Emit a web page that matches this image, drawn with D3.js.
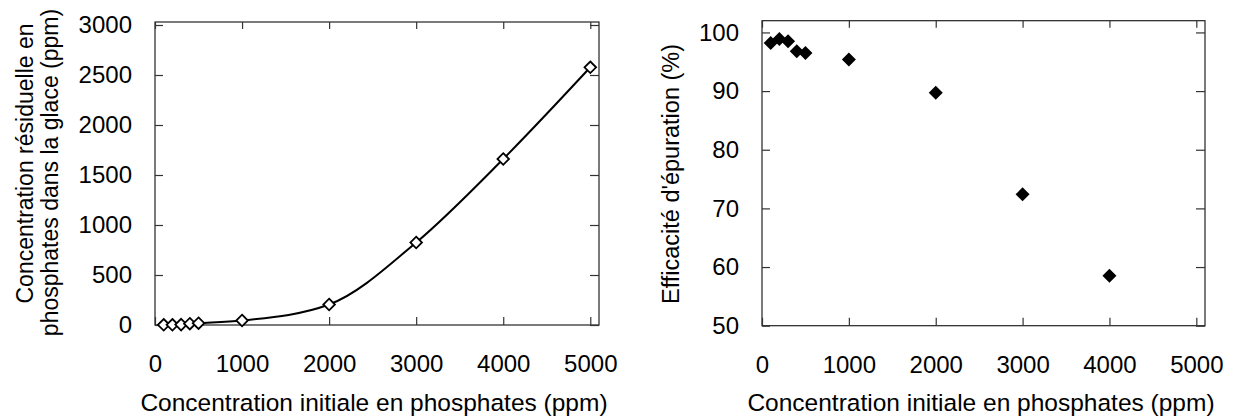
<!DOCTYPE html>
<html>
<head>
<meta charset="utf-8">
<script src="https://cdn.jsdelivr.net/npm/d3@7"></script>
<style>
  html, body { margin: 0; padding: 0; background: #fff; }
  svg { display: block; font-family: "Liberation Sans", Arial, sans-serif; }
</style>
</head>
<body>
<svg id="chart" width="1233" height="416"></svg>
<script>
// Initial phosphate concentration (ppm)
const initialConc = [100, 200, 300, 400, 500, 1000, 2000, 3000, 4000, 5000];
// Residual phosphate concentration in the ice (ppm)
const residualConc = [2, 2, 4, 13, 18, 45, 205, 825, 1660, 2577];
// Purification efficiency (%) for the runs that stay above 50 %
const effConc = [100, 200, 300, 400, 500, 1000, 2000, 3000, 4000];
const efficiency = [98.2, 98.9, 98.5, 96.8, 96.5, 95.4, 89.7, 72.4, 58.5];

const xTicks = [0, 1000, 2000, 3000, 4000, 5000];
const residualTicks = [0, 500, 1000, 1500, 2000, 2500, 3000];
const efficiencyTicks = [50, 60, 70, 80, 90, 100];

const xTitle = "Concentration initiale en phosphates (ppm)";
const residualTitle = ["Concentration résiduelle en", "phosphates dans la glace (ppm)"];
const efficiencyTitle = "Efficacité d'épuration (%)";

const svg = d3.select("#chart");
const TICK_FONT = 24;

function panel(opts) {
  const { x, y, xTickVals, yTickVals } = opts;
  const g = svg.append("g");
  const [x0, x1] = x.range();
  const [y0, y1] = y.range();

  // plot frame
  g.append("rect")
    .attr("x", x0).attr("y", y1)
    .attr("width", x1 - x0).attr("height", y0 - y1)
    .attr("fill", "none").attr("stroke", "#222").attr("stroke-width", 1.2);

  const styleAxis = sel => {
    sel.select(".domain").remove();
    sel.selectAll(".tick line").attr("stroke", "#333").attr("stroke-width", 1.2);
    sel.selectAll(".tick text")
      .attr("fill", "#000")
      .style("font-size", TICK_FONT + "px")
      .style("font-family", "'Liberation Sans', Arial, sans-serif");
  };

  g.append("g").attr("transform", `translate(0,${y0})`)
    .call(d3.axisBottom(x).tickValues(xTickVals).tickSizeInner(-8).tickSizeOuter(0).tickPadding(30).tickFormat(d3.format("d")))
    .call(styleAxis);
  g.append("g").attr("transform", `translate(0,${y1})`)
    .call(d3.axisTop(x).tickValues(xTickVals).tickSizeInner(-7).tickSizeOuter(0).tickFormat(""))
    .call(styleAxis);
  g.append("g").attr("transform", `translate(${x0},0)`)
    .call(d3.axisLeft(y).tickValues(yTickVals).tickSizeInner(-8).tickSizeOuter(0).tickPadding(23).tickFormat(d3.format("d")))
    .call(styleAxis);
  g.append("g").attr("transform", `translate(${x1},0)`)
    .call(d3.axisRight(y).tickValues(yTickVals).tickSizeInner(-9).tickSizeOuter(0).tickFormat(""))
    .call(styleAxis);

  // x axis title
  g.append("text")
    .attr("x", opts.xTitleX).attr("y", 411)
    .attr("text-anchor", "middle")
    .style("font-size", "24.5px")
    .text(xTitle);
  return g;
}

// ---- Left panel: residual concentration ----
const xL = d3.scaleLinear().domain([0, 5100]).range([155, 599]);
const yL = d3.scaleLinear().domain([0, 3030]).range([325, 22]);
const gL = panel({ x: xL, y: yL, xTickVals: xTicks, yTickVals: residualTicks, xTitleX: 374 });

const residualPts = initialConc.map((c, i) => [c, residualConc[i]]);
gL.append("path")
  .datum(residualPts)
  .attr("fill", "none").attr("stroke", "#000").attr("stroke-width", 2)
  .attr("d", d3.line().x(d => xL(d[0])).y(d => yL(d[1])).curve(d3.curveMonotoneX));

const diamond = r => `M0,${-r}L${r},0L0,${r}L${-r},0Z`;
gL.selectAll(".mk")
  .data(residualPts)
  .join("path")
  .attr("transform", d => `translate(${xL(d[0])},${yL(d[1])})`)
  .attr("d", diamond(5.8))
  .attr("fill", "#fff").attr("stroke", "#000").attr("stroke-width", 1.8);

const ytL = gL.append("text")
  .attr("transform", "rotate(-90)")
  .attr("text-anchor", "middle")
  .style("font-size", "23px");
ytL.append("tspan").attr("x", -163.5).attr("y", 33).text(residualTitle[0]);
ytL.append("tspan").attr("x", -172.5).attr("y", 58).text(residualTitle[1]);

// ---- Right panel: purification efficiency ----
const xR = d3.scaleLinear().domain([0, 5100]).range([762, 1205]);
const yR = d3.scaleLinear().domain([50, 102]).range([325.7, 20.7]);
const gR = panel({ x: xR, y: yR, xTickVals: xTicks, yTickVals: efficiencyTicks, xTitleX: 981 });

gR.selectAll(".mk")
  .data(effConc.map((c, i) => [c, efficiency[i]]))
  .join("path")
  .attr("transform", d => `translate(${xR(d[0])},${yR(d[1])})`)
  .attr("d", diamond(7))
  .attr("fill", "#000");

gR.append("text")
  .attr("transform", "translate(679,174) rotate(-90)")
  .attr("text-anchor", "middle")
  .style("font-size", "23.5px")
  .text(efficiencyTitle);
</script>
</body>
</html>
